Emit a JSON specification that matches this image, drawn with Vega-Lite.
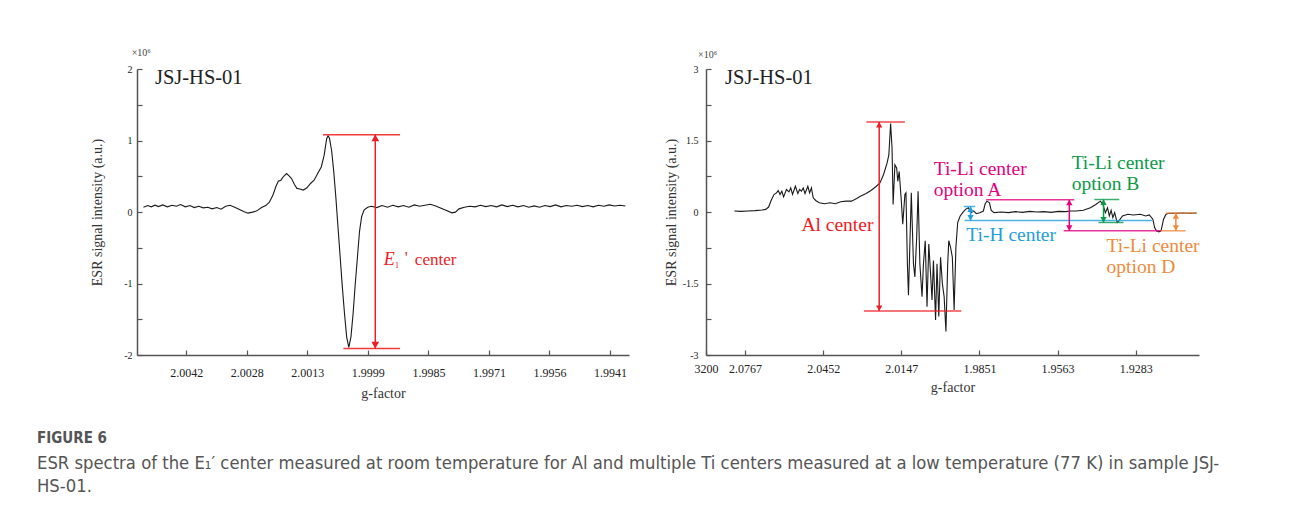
{
  "$schema": "https://vega.github.io/schema/vega-lite/v6.json",
  "background": "white",
  "padding": {"left": 37, "top": 47, "right": 5, "bottom": 5},
  "spacing": 35,
  "title": {
    "text": "FIGURE 6",
    "subtitle": ["ESR spectra of the E\u2081\u2032 center measured at room temperature for Al and multiple Ti centers measured at a low temperature (77 K) in sample JSJ-", "HS-01."],
    "orient": "bottom",
    "anchor": "start",
    "dx": -53,
    "offset": 31,
    "font": "DejaVu Sans Condensed, Liberation Sans, sans-serif",
    "fontSize": 15,
    "fontWeight": "bold",
    "color": "#555555",
    "subtitleFont": "DejaVu Sans Condensed, Liberation Sans, sans-serif",
    "subtitleFontSize": 18.3,
    "subtitleColor": "#555555",
    "subtitleLineHeight": 23,
    "subtitlePadding": 9
  },
  "datasets": {
    "left_spectrum": [
      {"B": 3348.226, "I": 0.067}, {"B": 3348.403, "I": 0.09}, {"B": 3348.551, "I": 0.072}, {"B": 3348.699, "I": 0.095},
      {"B": 3348.847, "I": 0.076}, {"B": 3349.024, "I": 0.099}, {"B": 3349.216, "I": 0.072}, {"B": 3349.409, "I": 0.095},
      {"B": 3349.586, "I": 0.081}, {"B": 3349.763, "I": 0.104}, {"B": 3349.956, "I": 0.072}, {"B": 3350.148, "I": 0.09},
      {"B": 3350.325, "I": 0.062}, {"B": 3350.517, "I": 0.081}, {"B": 3350.695, "I": 0.058}, {"B": 3350.887, "I": 0.067},
      {"B": 3351.064, "I": 0.044}, {"B": 3351.257, "I": 0.062}, {"B": 3351.434, "I": 0.039}, {"B": 3351.626, "I": 0.081},
      {"B": 3351.804, "I": 0.095}, {"B": 3351.996, "I": 0.067}, {"B": 3352.173, "I": 0.039}, {"B": 3352.365, "I": 0.007},
      {"B": 3352.543, "I": -0.016}, {"B": 3352.735, "I": -0.002}, {"B": 3352.912, "I": 0.016}, {"B": 3353.105, "I": 0.062},
      {"B": 3353.282, "I": 0.09}, {"B": 3353.43, "I": 0.136}, {"B": 3353.578, "I": 0.238}, {"B": 3353.696, "I": 0.353},
      {"B": 3353.799, "I": 0.431}, {"B": 3353.903, "I": 0.445}, {"B": 3354.021, "I": 0.5}, {"B": 3354.14, "I": 0.537},
      {"B": 3354.243, "I": 0.505}, {"B": 3354.347, "I": 0.468}, {"B": 3354.465, "I": 0.385}, {"B": 3354.568, "I": 0.33},
      {"B": 3354.687, "I": 0.321}, {"B": 3354.834, "I": 0.307}, {"B": 3354.982, "I": 0.339}, {"B": 3355.13, "I": 0.399},
      {"B": 3355.278, "I": 0.445}, {"B": 3355.426, "I": 0.537}, {"B": 3355.574, "I": 0.63}, {"B": 3355.692, "I": 0.791},
      {"B": 3355.795, "I": 1.022}, {"B": 3355.854, "I": 1.068}, {"B": 3355.914, "I": 1.031}, {"B": 3356.002, "I": 0.86},
      {"B": 3356.091, "I": 0.561}, {"B": 3356.18, "I": 0.191}, {"B": 3356.268, "I": -0.224}, {"B": 3356.357, "I": -0.639},
      {"B": 3356.446, "I": -1.054}, {"B": 3356.535, "I": -1.423}, {"B": 3356.623, "I": -1.746}, {"B": 3356.712, "I": -1.894},
      {"B": 3356.801, "I": -1.746}, {"B": 3356.889, "I": -1.423}, {"B": 3356.978, "I": -1.008}, {"B": 3357.067, "I": -0.639},
      {"B": 3357.155, "I": -0.27}, {"B": 3357.244, "I": -0.062}, {"B": 3357.348, "I": 0.03}, {"B": 3357.495, "I": 0.067},
      {"B": 3357.643, "I": 0.081}, {"B": 3357.865, "I": 0.062}, {"B": 3358.087, "I": 0.09}, {"B": 3358.309, "I": 0.067},
      {"B": 3358.53, "I": 0.095}, {"B": 3358.752, "I": 0.072}, {"B": 3358.974, "I": 0.09}, {"B": 3359.196, "I": 0.067},
      {"B": 3359.417, "I": 0.099}, {"B": 3359.639, "I": 0.081}, {"B": 3359.861, "I": 0.095}, {"B": 3360.083, "I": 0.108},
      {"B": 3360.304, "I": 0.085}, {"B": 3360.526, "I": 0.053}, {"B": 3360.748, "I": 0.021}, {"B": 3360.97, "I": -0.012},
      {"B": 3361.118, "I": -0.002}, {"B": 3361.265, "I": 0.044}, {"B": 3361.487, "I": 0.067}, {"B": 3361.709, "I": 0.081},
      {"B": 3361.931, "I": 0.072}, {"B": 3362.152, "I": 0.095}, {"B": 3362.374, "I": 0.076}, {"B": 3362.596, "I": 0.09},
      {"B": 3362.818, "I": 0.072}, {"B": 3363.039, "I": 0.099}, {"B": 3363.261, "I": 0.076}, {"B": 3363.483, "I": 0.095},
      {"B": 3363.705, "I": 0.072}, {"B": 3363.926, "I": 0.09}, {"B": 3364.148, "I": 0.067}, {"B": 3364.37, "I": 0.085},
      {"B": 3364.592, "I": 0.067}, {"B": 3364.814, "I": 0.09}, {"B": 3365.035, "I": 0.076}, {"B": 3365.257, "I": 0.099},
      {"B": 3365.479, "I": 0.072}, {"B": 3365.701, "I": 0.09}, {"B": 3365.922, "I": 0.081}, {"B": 3366.144, "I": 0.095},
      {"B": 3366.366, "I": 0.076}, {"B": 3366.588, "I": 0.09}, {"B": 3366.809, "I": 0.072}, {"B": 3367.031, "I": 0.095},
      {"B": 3367.253, "I": 0.081}, {"B": 3367.475, "I": 0.099}, {"B": 3367.697, "I": 0.085}, {"B": 3367.918, "I": 0.095},
      {"B": 3368.14, "I": 0.085}
    ],
    "right_spectrum": [
      {"B": 3218.15, "I": 0.021}, {"B": 3222.26, "I": 0.014}, {"B": 3226.83, "I": 0.021}, {"B": 3231.39, "I": 0.028},
      {"B": 3235.96, "I": 0.042}, {"B": 3238.24, "I": 0.055}, {"B": 3240.07, "I": 0.104}, {"B": 3241.67, "I": 0.242},
      {"B": 3243.49, "I": 0.367}, {"B": 3245.09, "I": 0.401}, {"B": 3246.23, "I": 0.45}, {"B": 3247.37, "I": 0.367},
      {"B": 3248.52, "I": 0.436}, {"B": 3249.66, "I": 0.318}, {"B": 3251.48, "I": 0.471}, {"B": 3253.08, "I": 0.422},
      {"B": 3254.22, "I": 0.505}, {"B": 3255.37, "I": 0.367}, {"B": 3257.19, "I": 0.54}, {"B": 3258.79, "I": 0.388},
      {"B": 3259.93, "I": 0.471}, {"B": 3261.07, "I": 0.436}, {"B": 3262.21, "I": 0.505}, {"B": 3263.36, "I": 0.388},
      {"B": 3265.18, "I": 0.54}, {"B": 3266.32, "I": 0.401}, {"B": 3267.47, "I": 0.505}, {"B": 3268.61, "I": 0.298},
      {"B": 3270.21, "I": 0.242}, {"B": 3272.49, "I": 0.194}, {"B": 3275.91, "I": 0.173}, {"B": 3279.34, "I": 0.194},
      {"B": 3282.76, "I": 0.173}, {"B": 3286.19, "I": 0.215}, {"B": 3289.61, "I": 0.228}, {"B": 3293.04, "I": 0.228},
      {"B": 3296.46, "I": 0.284}, {"B": 3298.75, "I": 0.332}, {"B": 3302.17, "I": 0.381}, {"B": 3305.59, "I": 0.45},
      {"B": 3309.02, "I": 0.54}, {"B": 3311.3, "I": 0.609}, {"B": 3313.58, "I": 0.782}, {"B": 3315.87, "I": 1.024},
      {"B": 3317.01, "I": 1.197}, {"B": 3318.15, "I": 1.855}, {"B": 3319.06, "I": 1.336}, {"B": 3319.75, "I": 0.159},
      {"B": 3320.89, "I": 0.99}, {"B": 3322.03, "I": 0.92}, {"B": 3322.72, "I": 0.644}, {"B": 3323.63, "I": 0.851},
      {"B": 3325.0, "I": 0.228}, {"B": 3325.91, "I": -0.256}, {"B": 3327.28, "I": 0.367}, {"B": 3327.97, "I": 0.401},
      {"B": 3328.88, "I": -1.087}, {"B": 3329.57, "I": -1.744}, {"B": 3330.48, "I": -0.671}, {"B": 3331.39, "I": 0.401},
      {"B": 3332.76, "I": -1.087}, {"B": 3333.68, "I": -1.363}, {"B": 3334.82, "I": -0.533}, {"B": 3335.73, "I": 0.436},
      {"B": 3336.87, "I": -1.087}, {"B": 3338.24, "I": -1.779}, {"B": 3339.16, "I": -1.087}, {"B": 3340.3, "I": -0.602},
      {"B": 3341.44, "I": -1.986}, {"B": 3342.58, "I": -0.671}, {"B": 3343.72, "I": -1.294}, {"B": 3344.64, "I": -1.848},
      {"B": 3345.55, "I": -1.017}, {"B": 3346.92, "I": -2.263}, {"B": 3347.83, "I": -1.087}, {"B": 3348.97, "I": -2.194},
      {"B": 3350.11, "I": -0.948}, {"B": 3351.26, "I": -1.502}, {"B": 3352.4, "I": -1.779}, {"B": 3353.54, "I": -2.505},
      {"B": 3354.68, "I": -1.087}, {"B": 3355.37, "I": -0.602}, {"B": 3356.51, "I": -0.74}, {"B": 3357.65, "I": -0.948},
      {"B": 3358.79, "I": -2.055}, {"B": 3359.93, "I": -0.74}, {"B": 3361.07, "I": -0.221}, {"B": 3362.67, "I": -0.083},
      {"B": 3364.27, "I": -0.014}, {"B": 3366.1, "I": 0.055}, {"B": 3367.92, "I": 0.09}, {"B": 3369.52, "I": -0.014},
      {"B": 3371.35, "I": 0.021}, {"B": 3372.94, "I": -0.035}, {"B": 3375.23, "I": -0.014}, {"B": 3377.51, "I": 0.021},
      {"B": 3378.65, "I": 0.173}, {"B": 3379.79, "I": 0.228}, {"B": 3381.39, "I": 0.194}, {"B": 3382.53, "I": 0.035},
      {"B": 3384.36, "I": -0.014}, {"B": 3388.93, "I": 0.0}, {"B": 3393.49, "I": -0.014}, {"B": 3398.06, "I": 0.007},
      {"B": 3402.62, "I": -0.007}, {"B": 3407.19, "I": 0.014}, {"B": 3411.76, "I": 0.0}, {"B": 3416.32, "I": 0.007},
      {"B": 3420.89, "I": -0.007}, {"B": 3425.46, "I": 0.014}, {"B": 3430.02, "I": 0.007}, {"B": 3433.45, "I": 0.021},
      {"B": 3436.87, "I": 0.021}, {"B": 3441.44, "I": 0.035}, {"B": 3446.0, "I": 0.09}, {"B": 3449.43, "I": 0.159},
      {"B": 3452.4, "I": 0.228}, {"B": 3454.0, "I": 0.159}, {"B": 3455.59, "I": -0.014}, {"B": 3456.96, "I": 0.09},
      {"B": 3458.1, "I": -0.083}, {"B": 3459.25, "I": 0.035}, {"B": 3460.39, "I": -0.118}, {"B": 3461.53, "I": -0.014},
      {"B": 3463.13, "I": -0.221}, {"B": 3464.27, "I": -0.187}, {"B": 3466.55, "I": -0.083}, {"B": 3469.98, "I": -0.048},
      {"B": 3473.4, "I": -0.062}, {"B": 3477.97, "I": -0.048}, {"B": 3481.39, "I": -0.083}, {"B": 3483.68, "I": -0.062},
      {"B": 3485.96, "I": -0.152}, {"B": 3487.1, "I": -0.325}, {"B": 3488.24, "I": -0.394}, {"B": 3489.84, "I": -0.415},
      {"B": 3491.21, "I": -0.394}, {"B": 3492.81, "I": -0.152}, {"B": 3494.41, "I": -0.048}, {"B": 3496.23, "I": -0.028},
      {"B": 3500.8, "I": -0.028}, {"B": 3505.37, "I": -0.021}, {"B": 3509.93, "I": -0.028}, {"B": 3514.04, "I": -0.021}
    ],
    "left_lines": [
      {"center": "E1", "B": 3355.647, "B2": 3358.826, "I": 1.082},
      {"center": "E1", "B": 3356.49, "B2": 3358.826, "I": -1.908}
    ],
    "left_arrows": [
      {"center": "E1", "B": 3357.806, "I": 1.082, "I2": -1.908}
    ],
    "left_heads": [
      {"center": "E1", "B": 3357.806, "I": 1.082, "dir": "up"},
      {"center": "E1", "B": 3357.806, "I": -1.908, "dir": "down"}
    ],
    "left_text": [
      {"B": 3348.7, "I": 1.87, "label": "JSJ-HS-01"}
    ],
    "left_unit": [
      {"B": 3347.74, "I": 2.23, "label": "\u00d710\u2076"}
    ],
    "left_e1": [
      {"B": 3358.16, "I": -0.676}
    ],
    "right_lines": [
      {"center": "Al", "B": 3302.63, "B2": 3327.28, "I": 1.889},
      {"center": "Al", "B": 3301.03, "B2": 3363.36, "I": -2.076},
      {"center": "Ti-Li A", "B": 3379.3, "B2": 3435.7, "I": 0.256},
      {"center": "Ti-Li A", "B": 3428.9, "B2": 3491.1, "I": -0.394},
      {"center": "Ti-H", "B": 3365.0, "B2": 3372.3, "I": 0.115},
      {"center": "Ti-H", "B": 3365.5, "B2": 3485.7, "I": -0.178},
      {"center": "Ti-Li B", "B": 3448.5, "B2": 3464.5, "I": 0.262},
      {"center": "Ti-Li B", "B": 3451.2, "B2": 3467.2, "I": -0.22},
      {"center": "Ti-Li D", "B": 3494.3, "B2": 3513.4, "I": -0.023},
      {"center": "Ti-Li D", "B": 3491.1, "B2": 3507.0, "I": -0.394}
    ],
    "right_arrows": [
      {"center": "Al", "B": 3310.84, "I": 1.889, "I2": -2.076},
      {"center": "Ti-Li A", "B": 3432.5, "I": 0.256, "I2": -0.394},
      {"center": "Ti-H", "B": 3369.3, "I": 0.115, "I2": -0.178},
      {"center": "Ti-Li B", "B": 3454.4, "I": 0.262, "I2": -0.22},
      {"center": "Ti-Li D", "B": 3500.7, "I": -0.023, "I2": -0.394}
    ],
    "right_heads": [
      {"center": "Al", "B": 3310.84, "I": 1.889, "dir": "up"},
      {"center": "Al", "B": 3310.84, "I": -2.076, "dir": "down"},
      {"center": "Ti-Li A", "B": 3432.5, "I": 0.256, "dir": "up"},
      {"center": "Ti-Li A", "B": 3432.5, "I": -0.394, "dir": "down"},
      {"center": "Ti-H", "B": 3369.3, "I": 0.115, "dir": "up"},
      {"center": "Ti-H", "B": 3369.3, "I": -0.178, "dir": "down"},
      {"center": "Ti-Li B", "B": 3454.4, "I": 0.262, "dir": "up"},
      {"center": "Ti-Li B", "B": 3454.4, "I": -0.22, "dir": "down"},
      {"center": "Ti-Li D", "B": 3500.7, "I": -0.023, "dir": "up"},
      {"center": "Ti-Li D", "B": 3500.7, "I": -0.394, "dir": "down"}
    ],
    "right_labels": [
      {"center": "Al", "B": 3261.07, "I": -0.277, "label": "Al center"},
      {"center": "Ti-Li A", "B": 3345.69, "I": 0.9, "label": "Ti-Li center|option A"},
      {"center": "Ti-H", "B": 3366.57, "I": -0.478, "label": "Ti-H center"},
      {"center": "Ti-Li B", "B": 3434.0, "I": 1.025, "label": "Ti-Li center|option B"},
      {"center": "Ti-Li D", "B": 3456.35, "I": -0.723, "label": "Ti-Li center|option D"}
    ],
    "right_text": [
      {"B": 3212.2, "I": 2.81, "label": "JSJ-HS-01"}
    ],
    "right_unit": [
      {"B": 3194.9, "I": 3.3, "label": "\u00d710\u2076"}
    ]
  },
  "hconcat": [
    {
      "width": 492,
      "height": 286,
      "encoding": {
        "x": {
          "field": "B", "type": "quantitative",
          "scale": {"domain": [3347.96, 3368.29], "nice": false, "zero": false},
          "axis": {
            "title": "g-factor",
            "values": [3350, 3352.5, 3355, 3357.5, 3360, 3362.5, 3365, 3367.5],
            "labelExpr": "['2.0042','2.0028','2.0013','1.9999','1.9985','1.9971','1.9956','1.9941'][round((datum.value-3350)/2.5)]",
            "labelFlush": false,
            "labelPadding": 17,
            "titlePadding": 8
          }
        },
        "y": {
          "field": "I", "type": "quantitative",
          "scale": {"domain": [-2, 2], "nice": false, "zero": false},
          "axis": {
            "title": "ESR signal intensity (a.u.)",
            "values": [-2, -1.5, -1, -0.5, 0, 0.5, 1, 1.5, 2],
            "labelExpr": "datum.value % 1 == 0 ? '' + datum.value : ''",
            "labelPadding": 10,
            "labelFontSize": 10,
            "minExtent": 20,
            "maxExtent": 20,
            "titlePadding": 13
          }
        }
      },
      "layer": [
        {"data": {"name": "left_spectrum"}, "mark": {"type": "line", "color": "#1a1a1a", "strokeWidth": 1.1}},
        {"data": {"name": "left_lines"}, "mark": {"type": "rule", "strokeWidth": 1.5, "color": "#f23a3a"}, "encoding": {"x2": {"field": "B2"}}},
        {"data": {"name": "left_arrows"}, "mark": {"type": "rule", "strokeWidth": 1.5, "color": "#ee1c25"}, "encoding": {"y2": {"field": "I2"}}},
        {"data": {"name": "left_heads"}, "transform": [{"filter": "datum.dir == 'up'"}], "mark": {"type": "point", "shape": "triangle-up", "filled": true, "opacity": 1, "size": 60, "yOffset": 3.3, "color": "#ee1c25"}},
        {"data": {"name": "left_heads"}, "transform": [{"filter": "datum.dir == 'down'"}], "mark": {"type": "point", "shape": "triangle-down", "filled": true, "opacity": 1, "size": 60, "yOffset": -3.3, "color": "#ee1c25"}},
        {"data": {"name": "left_text"}, "mark": {"type": "text", "align": "left", "baseline": "middle", "font": "Liberation Serif", "fontSize": 20.5, "color": "#222222"}, "encoding": {"text": {"field": "label"}}},
        {"data": {"name": "left_unit"}, "mark": {"type": "text", "align": "left", "baseline": "middle", "font": "Liberation Serif", "fontSize": 10, "color": "#444444"}, "encoding": {"text": {"field": "label"}}},
        {"data": {"name": "left_e1"}, "mark": {"type": "text", "align": "left", "baseline": "middle", "font": "Liberation Serif", "fontSize": 18, "fontStyle": "italic", "color": "#ee1c25", "text": "E"}},
        {"data": {"name": "left_e1"}, "mark": {"type": "text", "align": "left", "baseline": "middle", "font": "Liberation Serif", "fontSize": 9, "color": "#ee1c25", "text": "1", "dx": 11, "dy": 5}},
        {"data": {"name": "left_e1"}, "mark": {"type": "text", "align": "left", "baseline": "middle", "font": "Liberation Serif", "fontSize": 17, "color": "#ee1c25", "text": "'", "dx": 21, "dy": -2}},
        {"data": {"name": "left_e1"}, "mark": {"type": "text", "align": "left", "baseline": "middle", "font": "Liberation Serif", "fontSize": 17, "color": "#ee1c25", "text": "center", "dx": 31}}
      ]
    },
    {
      "width": 493,
      "height": 286,
      "encoding": {
        "x": {
          "field": "B", "type": "quantitative",
          "scale": {"domain": [3200, 3515.5], "nice": false, "zero": false},
          "axis": {
            "title": "g-factor",
            "values": [3200, 3225, 3275, 3325, 3375, 3425, 3475],
            "labelExpr": "datum.value == 3200 ? '3200' : ['2.0767','2.0452','2.0147','1.9851','1.9563','1.9283'][round((datum.value-3225)/50)]",
            "labelFlush": false,
            "labelPadding": 13,
            "titlePadding": 6
          }
        },
        "y": {
          "field": "I", "type": "quantitative",
          "scale": {"domain": [-3, 3], "nice": false, "zero": false},
          "axis": {
            "title": "ESR signal intensity (a.u.)",
            "values": [-3, -2.25, -1.5, -0.75, 0, 0.75, 1.5, 2.25, 3],
            "labelExpr": "abs(datum.value) % 1.5 == 0 ? '' + datum.value : ''",
            "labelPadding": 13,
            "labelFontSize": 10,
            "minExtent": 20,
            "maxExtent": 20,
            "titlePadding": 8
          }
        }
      },
      "layer": [
        {"data": {"name": "right_spectrum"}, "mark": {"type": "line", "color": "#1a1a1a", "strokeWidth": 1.1}},
        {"data": {"name": "right_lines"}, "mark": {"type": "rule", "strokeWidth": 1.5, "opacity": 0.8}, "encoding": {"x2": {"field": "B2"}, "color": {"field": "center", "type": "nominal", "scale": {"domain": ["Al", "Ti-Li A", "Ti-H", "Ti-Li B", "Ti-Li D"], "range": ["#ee1c25", "#e4007f", "#1ea0dc", "#0a9a48", "#f08a3c"]}, "legend": null}}},
        {"data": {"name": "right_arrows"}, "mark": {"type": "rule", "strokeWidth": 1.5}, "encoding": {"y2": {"field": "I2"}, "color": {"field": "center", "type": "nominal", "scale": {"domain": ["Al", "Ti-Li A", "Ti-H", "Ti-Li B", "Ti-Li D"], "range": ["#ee1c25", "#e4007f", "#1ea0dc", "#0a9a48", "#f08a3c"]}, "legend": null}}},
        {"data": {"name": "right_heads"}, "transform": [{"filter": "datum.dir == 'up'"}], "mark": {"type": "point", "shape": "triangle-up", "filled": true, "opacity": 1, "size": 40, "yOffset": 2.8}, "encoding": {"color": {"field": "center", "type": "nominal", "scale": {"domain": ["Al", "Ti-Li A", "Ti-H", "Ti-Li B", "Ti-Li D"], "range": ["#ee1c25", "#e4007f", "#1ea0dc", "#0a9a48", "#f08a3c"]}, "legend": null}}},
        {"data": {"name": "right_heads"}, "transform": [{"filter": "datum.dir == 'down'"}], "mark": {"type": "point", "shape": "triangle-down", "filled": true, "opacity": 1, "size": 40, "yOffset": -2.8}, "encoding": {"color": {"field": "center", "type": "nominal", "scale": {"domain": ["Al", "Ti-Li A", "Ti-H", "Ti-Li B", "Ti-Li D"], "range": ["#ee1c25", "#e4007f", "#1ea0dc", "#0a9a48", "#f08a3c"]}, "legend": null}}},
        {"data": {"name": "right_labels"}, "mark": {"type": "text", "align": "left", "baseline": "middle", "font": "Liberation Serif", "fontSize": 19.5, "lineBreak": "|", "lineHeight": 21}, "encoding": {"text": {"field": "label"}, "color": {"field": "center", "type": "nominal", "scale": {"domain": ["Al", "Ti-Li A", "Ti-H", "Ti-Li B", "Ti-Li D"], "range": ["#ee1c25", "#e4007f", "#1ea0dc", "#0a9a48", "#f08a3c"]}, "legend": null}}},
        {"data": {"name": "right_text"}, "mark": {"type": "text", "align": "left", "baseline": "middle", "font": "Liberation Serif", "fontSize": 20.5, "color": "#222222"}, "encoding": {"text": {"field": "label"}}},
        {"data": {"name": "right_unit"}, "mark": {"type": "text", "align": "left", "baseline": "middle", "font": "Liberation Serif", "fontSize": 10, "color": "#444444"}, "encoding": {"text": {"field": "label"}}}
      ]
    }
  ],
  "config": {
    "view": {"stroke": null},
    "axis": {
      "grid": false,
      "domainColor": "#555555",
      "domainWidth": 1.5,
      "tickColor": "#555555",
      "tickWidth": 1.2,
      "tickSize": -5,
      "labelFont": "Liberation Serif",
      "labelFontSize": 12,
      "labelColor": "#222222",
      "titleFont": "Liberation Serif",
      "titleFontSize": 14,
      "titleFontWeight": "normal",
      "titleColor": "#333333"
    }
  }
}
